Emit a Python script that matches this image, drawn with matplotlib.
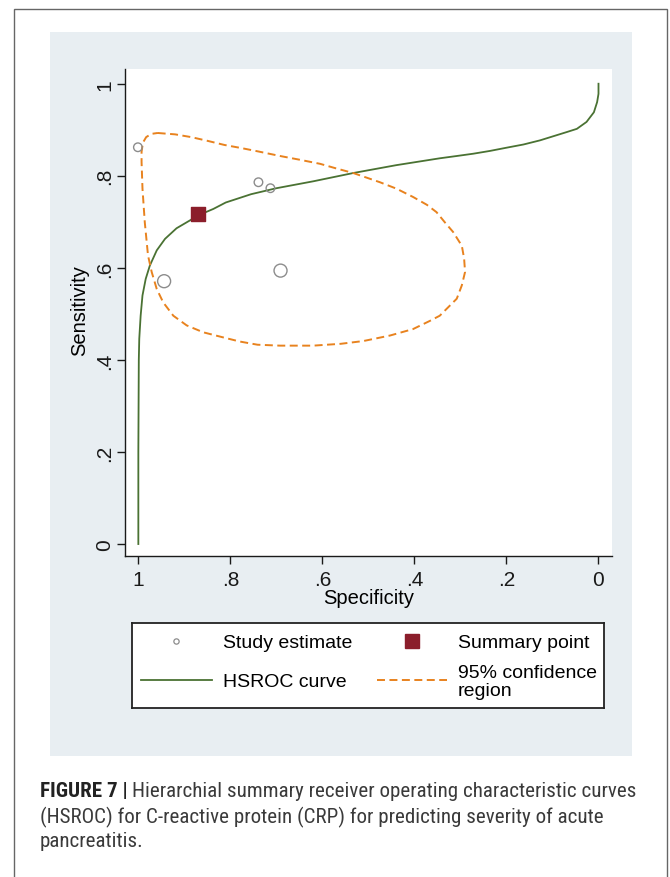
import matplotlib
matplotlib.use("Agg")
import matplotlib.pyplot as plt
from matplotlib.patches import Rectangle
from matplotlib import font_manager

# study estimates (specificity, sensitivity)
study_spec = [1.001, 0.739, 0.713, 0.691, 0.944]
study_sens = [0.862, 0.786, 0.773, 0.594, 0.571]
study_weight = [1.0, 1.0, 1.0, 2.3, 2.3]  # relative marker area

summary_spec = [0.870]
summary_sens = [0.716]

# HSROC curve
hsroc_spec = [1.000, 1.000, 0.999, 0.998, 0.995, 0.991, 0.984, 0.975, 0.960, 0.942,
              0.917, 0.888, 0.870, 0.837, 0.810, 0.755, 0.700, 0.620, 0.533, 0.440,
              0.345, 0.308, 0.272, 0.236, 0.200, 0.163, 0.127, 0.098, 0.069, 0.047,
              0.026, 0.010, 0.003, 0.000, 0.000]
hsroc_sens = [0.000, 0.200, 0.400, 0.446, 0.496, 0.540, 0.576, 0.605, 0.638, 0.663,
              0.686, 0.703, 0.714, 0.728, 0.742, 0.760, 0.773, 0.788, 0.806, 0.823,
              0.838, 0.843, 0.848, 0.854, 0.861, 0.868, 0.877, 0.886, 0.895, 0.902,
              0.917, 0.938, 0.960, 0.978, 1.000]

# 95% confidence region
conf_spec = [0.958, 0.920, 0.885, 0.850, 0.813, 0.775, 0.740, 0.692, 0.650, 0.605,
             0.570, 0.533, 0.475, 0.439, 0.403, 0.373, 0.352, 0.334, 0.316, 0.297,
             0.292, 0.290, 0.297, 0.308, 0.323, 0.345, 0.366, 0.403, 0.453, 0.511,
             0.560, 0.620, 0.692, 0.741, 0.780, 0.816, 0.859, 0.895, 0.924, 0.946,
             0.960, 0.971, 0.979, 0.986, 0.991, 0.993, 0.993, 0.990, 0.983, 0.972,
             0.958]
conf_sens = [0.893, 0.890, 0.884, 0.876, 0.867, 0.860, 0.853, 0.843, 0.835, 0.826,
             0.816, 0.806, 0.786, 0.772, 0.754, 0.737, 0.721, 0.699, 0.678, 0.648,
             0.620, 0.591, 0.562, 0.533, 0.518, 0.496, 0.485, 0.467, 0.453, 0.441,
             0.435, 0.431, 0.431, 0.433, 0.440, 0.449, 0.460, 0.475, 0.496, 0.525,
             0.554, 0.591, 0.627, 0.699, 0.772, 0.830, 0.852, 0.872, 0.884, 0.891,
             0.893]

x_ticks = [1, 0.8, 0.6, 0.4, 0.2, 0]
x_ticklabels = ["1", ".8", ".6", ".4", ".2", "0"]
y_ticks = [0, 0.2, 0.4, 0.6, 0.8, 1]
y_ticklabels = ["0", ".2", ".4", ".6", ".8", "1"]

legend_labels = ["Study estimate", "Summary point", "HSROC curve", "95% confidence\nregion"]
caption_head = "FIGURE 7 |"
caption_lines = ["Hierarchial summary receiver operating characteristic curves",
                 "(HSROC) for C-reactive protein (CRP) for predicting severity of acute",
                 "pancreatitis."]

# styles
GREEN = "#4a7233"
ORANGE = "#e8821e"
MAROON = "#8b1e2b"
CIRCLE = "#8c8c8c"
PANEL = "#e8eef2"
FONT = "Liberation Sans"
DASH = (0, (4.1, 2.3))

W, H = 670, 878
plt.rcParams['font.family'] = [FONT, 'DejaVu Sans']


def fx(px):
    return px / W


def fy(py):
    return 1 - py / H


fig = plt.figure(figsize=(W / 100, H / 100), dpi=100)
fig.patch.set_facecolor("white")

# outer frame and light panel
fig.add_artist(Rectangle((fx(14), fy(900)), fx(667) - fx(14), (900 - 10) / H,
                         transform=fig.transFigure, fill=False, ec="#666666", lw=1.0))
fig.add_artist(Rectangle((fx(50), fy(757)), fx(632) - fx(50), (757 - 33) / H,
                         transform=fig.transFigure, fc=PANEL, ec="none", zorder=0))

# main plot
ax = fig.add_axes([fx(125), fy(557), fx(611.7) - fx(125), (557 - 70) / H])
ax.set_facecolor("white")
ax.plot(hsroc_spec, hsroc_sens, color=GREEN, lw=1.3, zorder=2,
        solid_joinstyle="round")
ax.plot(conf_spec, conf_sens, color=ORANGE, lw=1.4, linestyle=DASH, zorder=2,
        dash_joinstyle="round")
ax.scatter(study_spec, study_sens, s=[38 * w for w in study_weight],
           facecolors="none", edgecolors=CIRCLE, linewidths=1.0, zorder=3)
ax.scatter(summary_spec, summary_sens, marker="s", s=95, color=MAROON, zorder=4)

ax.set_xlim(1.029, -0.0287)
ax.set_ylim(-0.026, 1.032)
ax.set_xticks(x_ticks)
ax.set_xticklabels(x_ticklabels)
ax.set_yticks(y_ticks)
ax.set_yticklabels(y_ticklabels, rotation=90, va="center")
ax.tick_params(direction="out", length=5.8, width=1.0, labelsize=15, colors="#1a1a1a")
ax.tick_params(axis="x", pad=4)
ax.tick_params(axis="y", pad=2)
for side in ["top", "right"]:
    ax.spines[side].set_visible(False)
for side in ["left", "bottom"]:
    ax.spines[side].set_linewidth(1.0)
    ax.spines[side].set_color("#1a1a1a")

ax.set_xlabel("Specificity", fontsize=14.5)
ax.xaxis.set_label_coords(0.5, -0.066)
ax.set_ylabel("Sensitivity", fontsize=14.5)
ax.yaxis.set_label_coords(-0.073, 0.507)

# legend box (drawn by hand to match the layout)
lg = fig.add_axes([fx(132), fy(709), (604 - 132) / W, (709 - 624) / H])
lg.set_xlim(132, 604)
lg.set_ylim(709, 624)
lg.set_xticks([])
lg.set_yticks([])
lg.set_facecolor("white")
for sp in lg.spines.values():
    sp.set_linewidth(1.3)
    sp.set_color("#222222")
lg.plot([176], [642], "o", ms=3.8, mfc="none", mec=CIRCLE, mew=0.9)
lg.plot([412], [642], "s", ms=9.8, color=MAROON)
lg.plot([141, 212], [681, 681], color=GREEN, lw=1.3)
lg.plot([377, 447], [681, 681], color=ORANGE, lw=1.4, linestyle=DASH)
lg.text(222.7, 644, legend_labels[0], fontsize=14, va="center", ha="left")
lg.text(458, 644, legend_labels[1], fontsize=14, va="center", ha="left")
lg.text(222.7, 683, legend_labels[2], fontsize=14, va="center", ha="left")
lg.text(458, 682.5, legend_labels[3], fontsize=14, va="center", ha="left", linespacing=1.05)

# caption, in the narrowest sans that is installed
names = {f.name for f in font_manager.fontManager.ttflist}
cap_font = FONT
for cand in ["Liberation Sans Narrow", "Roboto Condensed", "Roboto"]:
    if cand in names:
        cap_font = cand
        break
renderer = fig.canvas.get_renderer()

probe = fig.text(0, 0, caption_head + " " + caption_lines[0], fontsize=10, family=cap_font)
w10 = probe.get_window_extent(renderer).width
probe.remove()
cap_size = 10 * (632 - 40) / w10

head = fig.text(fx(40), fy(792), caption_head, fontsize=cap_size, family=cap_font,
                weight="bold", color="#222222", va="center")
hw = head.get_window_extent(renderer).width
cap_y = [792, 817, 842]
fig.text(fx(40 + hw + cap_size * 0.3), fy(cap_y[0]), caption_lines[0], fontsize=cap_size,
         family=cap_font, color="#3a3a3a", va="center")
for line, yy in zip(caption_lines[1:], cap_y[1:]):
    fig.text(fx(40), fy(yy), line, fontsize=cap_size, family=cap_font, color="#3a3a3a",
             va="center")

fig.savefig("out.png", dpi=100)
